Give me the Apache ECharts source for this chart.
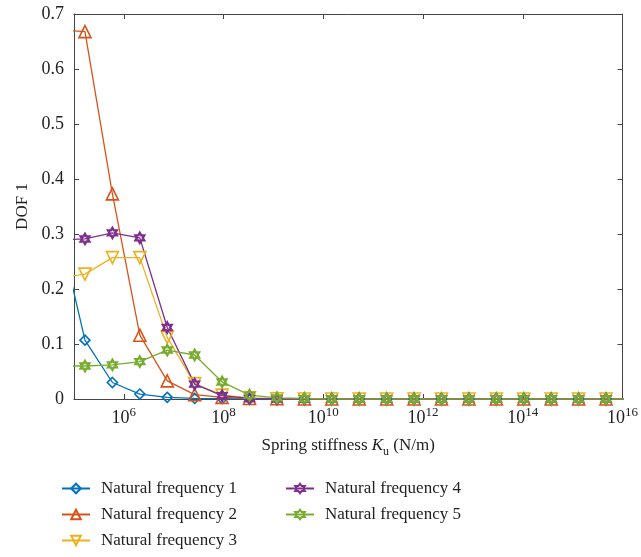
<!DOCTYPE html>
<html>
<head>
<meta charset="utf-8">
<script src="https://cdn.jsdelivr.net/npm/echarts@6/dist/echarts.min.js"></script>
<style>
  html, body { margin: 0; padding: 0; background: #fff; }
  #chart { width: 641px; height: 557px; }
</style>
</head>
<body>
<div id="chart"></div>
<script>
// x values are log10 of spring stiffness K_u (N/m)
const logK = [4.67, 5.22, 5.77, 6.32, 6.87, 7.42, 7.97, 8.52, 9.07, 9.62, 10.17,
  10.72, 11.27, 11.82, 12.37, 12.92, 13.47, 14.02, 14.57, 15.12, 15.67, 16.22];
const xTicks = [6, 8, 10, 12, 14, 16];

const freq1 = [0.322, 0.107, 0.030, 0.009, 0.003, 0.001, 0.0005, 0, 0, 0, 0,
  0, 0, 0, 0, 0, 0, 0, 0, 0, 0, 0];
const freq2 = [0.671, 0.668, 0.373, 0.116, 0.033, 0.008, 0.003, 0.001, 0.0005, 0, 0,
  0, 0, 0, 0, 0, 0, 0, 0, 0, 0, 0];
const freq3 = [0.220, 0.227, 0.257, 0.257, 0.112, 0.028, 0.007, 0.002, 0.0005, 0, 0,
  0, 0, 0, 0, 0, 0, 0, 0, 0, 0, 0];
const freq4 = [0.289, 0.291, 0.302, 0.293, 0.130, 0.027, 0.006, 0.001, 0, 0, 0,
  0, 0, 0, 0, 0, 0, 0, 0, 0, 0, 0];
const freq5 = [0.060, 0.060, 0.062, 0.068, 0.089, 0.080, 0.031, 0.007, 0.002, 0.001, 0,
  0, 0, 0, 0, 0, 0, 0, 0, 0, 0, 0];

const names = ["Natural frequency 1", "Natural frequency 2", "Natural frequency 3",
  "Natural frequency 4", "Natural frequency 5"];

const font = "'Liberation Serif', 'DejaVu Serif', serif";
const axisColor = "#444";
const hexagram = "path://M0,-100L28.9,-50L86.6,-50L57.7,0L86.6,50L28.9,50L0,100L-28.9,50L-86.6,50L-57.7,0L-86.6,-50L-28.9,-50Z";

function pairs(ys) {
  return logK.map((x, i) => [x, ys[i]]);
}

function makeSeries(name, ys, color, symbol, size, border, rotate) {
  return {
    name: name,
    type: "line",
    data: pairs(ys),
    symbol: symbol,
    symbolSize: size,
    symbolRotate: rotate || 0,
    symbolKeepAspect: true,
    showAllSymbol: true,
    clip: true,
    lineStyle: { color: color, width: 1.3 },
    itemStyle: { color: "rgba(255,255,255,0)", borderColor: color, borderWidth: border },
    emphasis: { disabled: true }
  };
}

function legendAt(left, items) {
  return {
    data: items,
    orient: "vertical",
    left: left,
    top: 480,
    padding: 0,
    itemWidth: 28,
    itemHeight: 12,
    itemGap: 9,
    textStyle: { fontFamily: font, fontSize: 17, color: "#222", padding: [0, 0, 0, 6] }
  };
}

const chart = echarts.init(document.getElementById("chart"));

chart.setOption({
  animation: false,
  textStyle: { fontFamily: font },
  grid: { left: 74, right: 18, top: 14, bottom: 158 },
  legend: [legendAt(61, names.slice(0, 3)), legendAt(285, names.slice(3))],
  xAxis: [
    {
      type: "value",
      min: 5,
      max: 16,
      splitLine: { show: false },
      axisLine: { show: true, onZero: false, lineStyle: { color: axisColor, width: 1 } },
      axisTick: { show: true, inside: true, length: 5, customValues: xTicks, lineStyle: { color: axisColor } },
      axisLabel: {
        customValues: xTicks,
        margin: 9,
        formatter: v => "{b|10}{s|" + v + "}",
        rich: {
          b: { fontFamily: font, fontSize: 18, color: "#222", lineHeight: 20 },
          s: { fontFamily: font, fontSize: 13, color: "#222", lineHeight: 13, padding: [0, 0, 10, 0] }
        }
      },
      name: "{n|Spring stiffness }{i|K}{u|u}{n| (N/m)}",
      nameLocation: "middle",
      nameGap: 31,
      nameTextStyle: {
        rich: {
          n: { fontFamily: font, fontSize: 17, color: "#222", lineHeight: 20 },
          i: { fontFamily: font, fontSize: 17, fontStyle: "italic", color: "#222", lineHeight: 20 },
          u: { fontFamily: font, fontSize: 12, color: "#222", lineHeight: 12, padding: [11, 0, 0, 0] }
        }
      }
    },
    {
      type: "value",
      position: "top",
      min: 5,
      max: 16,
      splitLine: { show: false },
      axisLine: { show: true, onZero: false, lineStyle: { color: axisColor, width: 1 } },
      axisTick: { show: true, inside: true, length: 5, customValues: xTicks, lineStyle: { color: axisColor } },
      axisLabel: { show: false }
    }
  ],
  yAxis: [
    {
      type: "value",
      min: 0,
      max: 0.7,
      interval: 0.1,
      splitLine: { show: false },
      axisLine: { show: true, onZero: false, lineStyle: { color: axisColor, width: 1 } },
      axisTick: { show: true, inside: true, length: 5, lineStyle: { color: axisColor } },
      axisLabel: {
        fontFamily: font,
        fontSize: 18,
        color: "#222",
        margin: 10,
        formatter: v => (v === 0 ? "0" : v.toFixed(1))
      },
      name: "DOF 1",
      nameLocation: "middle",
      nameGap: 43,
      nameTextStyle: { fontFamily: font, fontSize: 17, color: "#222" }
    },
    {
      type: "value",
      position: "right",
      min: 0,
      max: 0.7,
      interval: 0.1,
      splitLine: { show: false },
      axisLine: { show: true, onZero: false, lineStyle: { color: axisColor, width: 1 } },
      axisTick: { show: true, inside: true, length: 5, lineStyle: { color: axisColor } },
      axisLabel: { show: false }
    }
  ],
  series: [
    makeSeries(names[0], freq1, "#0072BD", "diamond", 10, 1.6),
    makeSeries(names[1], freq2, "#D95319", "triangle", 12, 1.6),
    makeSeries(names[2], freq3, "#EDB120", "triangle", 12, 1.6, 180),
    makeSeries(names[3], freq4, "#7E2F8E", hexagram, 10, 2.4),
    makeSeries(names[4], freq5, "#77AC30", hexagram, 10, 2.4)
  ]
});
</script>
</body>
</html>
